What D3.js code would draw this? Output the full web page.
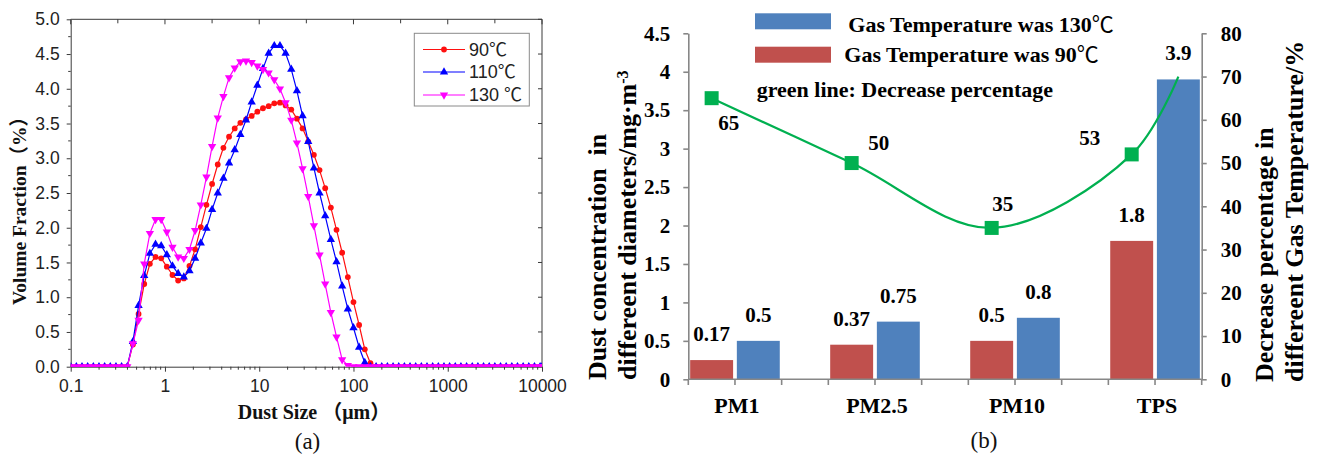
<!DOCTYPE html>
<html><head><meta charset="utf-8">
<script src="https://cdn.jsdelivr.net/npm/d3@7"></script>
<style>body{margin:0;background:#fff;} svg{display:block}</style>
</head><body>
<svg id="c" width="1317" height="459"></svg>
<script>
// ---------- Chart (a) data ----------
const sizes = [0.1,0.1148,0.1318,0.1514,0.1738,0.1995,0.2291,0.263,0.302,0.3467,
 0.3981,0.4571,0.5248,0.6026,0.6918,0.7943,0.912,1.047,1.202,1.38,
 1.585,1.82,2.089,2.399,2.754,3.162,3.631,4.169,4.786,5.495,
 6.31,7.244,8.318,9.55,10.96,12.59,14.45,16.6,19.05,21.88,
 25.12,28.84,33.11,38.02,43.65,50.12,57.54,66.07,75.86,87.1,
 100,114.8,131.8,151.4,173.8,199.5,229.1,263,302,346.7,
 398.1,457.1,524.8,602.6,691.8,794.3,912,1047,1202,1380,
 1585,1820,2089,2399,2754,3162,3631,4169,4786,5495,
 6310,7244,8318,9550,10000];
const vol90 = [0,0,0,0,0,0,0,0,0,0,
 0,0.32,0.76,1.19,1.48,1.58,1.56,1.44,1.32,1.24,
 1.27,1.45,1.69,2.01,2.33,2.63,2.91,3.15,3.31,3.43,
 3.51,3.56,3.61,3.67,3.72,3.75,3.79,3.80,3.76,3.70,
 3.57,3.43,3.24,3.05,2.83,2.57,2.29,1.97,1.64,1.29,
 0.93,0.60,0.25,0.05,0,0,0,0,0,0,
 0,0,0,0,0,0,0,0,0,0,
 0,0,0,0,0,0,0,0,0,0,
 0,0,0,0,0];
const vol110 = [0,0,0,0,0,0,0,0,0,0,
 0,0.36,0.88,1.31,1.63,1.76,1.74,1.61,1.45,1.34,
 1.29,1.38,1.56,1.78,1.99,2.26,2.50,2.71,2.93,3.12,
 3.34,3.55,3.81,4.05,4.29,4.51,4.62,4.62,4.51,4.28,
 3.97,3.61,3.24,2.86,2.50,2.17,1.83,1.51,1.16,0.83,
 0.56,0.28,0.06,0,0,0,0,0,0,0,
 0,0,0,0,0,0,0,0,0,0,
 0,0,0,0,0,0,0,0,0,0,
 0,0,0,0,0];
const vol130 = [0,0,0,0,0,0,0,0,0,0,
 0,0.33,0.67,1.48,1.92,2.12,2.12,1.94,1.72,1.58,
 1.56,1.69,1.96,2.33,2.73,3.17,3.58,3.89,4.16,4.30,
 4.39,4.40,4.38,4.33,4.28,4.23,4.13,4.00,3.80,3.55,
 3.22,2.85,2.45,2.03,1.61,1.19,0.78,0.43,0.10,0.02,
 0,0,0,0,0,0,0,0,0,0,
 0,0,0,0,0,0,0,0,0,0,
 0,0,0,0,0,0,0,0,0,0,
 0,0,0,0,0];
const sizeTicks = [0.1,1,10,100,1000,10000];
const volTicks = [0,0.5,1,1.5,2,2.5,3,3.5,4,4.5,5];
const legendA = ["90℃","110℃","130 ℃"];

// ---------- Chart (b) data ----------
const categories = ["PM1","PM2.5","PM10","TPS"];
const conc90 = [0.25,0.45,0.5,1.8];
const conc130 = [0.5,0.75,0.8,3.9];
const conc90Labels = ["0.17","0.37","0.5","1.8"];
const conc130Labels = ["0.5","0.75","0.8","3.9"];
const decreaseCats = ["PM1","PM2.5","PM10","TPS","TPS"];
const decreaseSeries = ["90","90","90","90","130"];
const decrease = [65,50,35,52,70];
const decreaseLabels = ["65","50","35","53"];
const concTicks = [0,0.5,1,1.5,2,2.5,3,3.5,4,4.5];
const pctTicks = [0,10,20,30,40,50,60,70,80];
const legendB = ["Gas Temperature was 130℃","Gas Temperature was 90℃","green line: Decrease percentage"];

// ---------- drawing ----------
const SERIF = "'Liberation Serif','Times New Roman','DejaVu Serif','Noto Sans CJK SC',serif";
const SANS = "'Liberation Sans',Arial,'Noto Sans CJK SC',sans-serif";
const CJK = "'Noto Sans CJK SC','Noto Sans CJK JP',sans-serif";
const svg = d3.select("#c");
svg.append("rect").attr("width",1317).attr("height",459).attr("fill","#fff");

function richText(sel, str, cjkWeight){
  str.split(/(℃)/).forEach(part=>{
    if(!part) return;
    const t = sel.append("tspan").text(part);
    if(part==="℃") t.attr("font-family",CJK).attr("font-weight",cjkWeight||"normal");
  });
  return sel;
}

// ===== Chart (a) =====
const A = {l:70.7, r:542, t:19.3, b:366.7};
const xA = d3.scaleLog().domain([0.1,10000]).range([A.l,A.r]);
const yA = d3.scaleLinear().domain([0,5]).range([A.b,A.t]);
const gA = svg.append("g");
const axA = "#3a3a3a";

svg.append("defs").append("clipPath").attr("id","clipA").append("rect")
  .attr("x",A.l).attr("y",A.t).attr("width",A.r-A.l).attr("height",A.b-A.t);

const la = gA.append("g").attr("transform",`translate(${A.l},0)`)
  .call(d3.axisLeft(yA).tickValues(volTicks).tickFormat(d3.format(".1f")).tickSize(4).tickSizeOuter(0).tickPadding(7));
const ba = gA.append("g").attr("transform",`translate(0,${A.b})`)
  .call(d3.axisBottom(xA).tickValues(sizeTicks).tickFormat(d=>String(d)).tickSize(5).tickSizeOuter(0).tickPadding(8));
[la,ba].forEach(g=>{
  g.select(".domain").attr("stroke",axA);
  g.selectAll(".tick line").attr("stroke",axA);
  g.selectAll(".tick text").attr("font-family",SANS).attr("font-size",17.5).attr("fill","#222");
});
const minorY = volTicks.slice(0,-1).map(d=>d+0.25);
gA.selectAll(".myl").data(minorY).enter().append("line")
  .attr("x1",A.l-2.5).attr("x2",A.l).attr("y1",d=>yA(d)).attr("y2",d=>yA(d)).attr("stroke",axA);
const minorX = [];
sizeTicks.slice(0,-1).forEach(d=>{for(let k=2;k<10;k++) minorX.push(d*k);});
gA.selectAll(".mxb").data(minorX).enter().append("line")
  .attr("x1",d=>xA(d)).attr("x2",d=>xA(d)).attr("y1",A.b).attr("y2",A.b+3).attr("stroke",axA);
const halfDec = [];
sizeTicks.forEach((d,i)=>{halfDec.push(d); if(i<sizeTicks.length-1) halfDec.push(d*Math.sqrt(10));});
gA.selectAll(".tt").data(halfDec).enter().append("line")
  .attr("x1",d=>xA(d)).attr("x2",d=>xA(d)).attr("y1",A.t).attr("y2",(d,i)=>A.t+(i%2?4:5)).attr("stroke",axA);
gA.selectAll(".rt").data(volTicks).enter().append("line")
  .attr("x1",A.r-4).attr("x2",A.r).attr("y1",d=>yA(d)).attr("y2",d=>yA(d)).attr("stroke",axA);
gA.append("path").attr("d",`M${A.l},${A.t}H${A.r}V${A.b}`).attr("fill","none").attr("stroke",axA);

const seriesA = [
  {vals:vol90, color:"#ff1010", sym:"circle"},
  {vals:vol110, color:"#0000ff", sym:"up"},
  {vals:vol130, color:"#ff00ff", sym:"down"}
];
const lineA = d3.line().x(d=>xA(d[0])).y(d=>yA(d[1]));
const plotA = gA.append("g").attr("clip-path","url(#clipA)");
function marker(g, sym, color){
  if(sym==="circle") g.append("circle").attr("r",2.9).attr("fill",color);
  else g.append("path").attr("d",d3.symbol().type(d3.symbolTriangle).size(30)())
        .attr("transform",sym==="down"?"rotate(180)":null).attr("fill",color);
}
seriesA.forEach(s=>{
  const pts = sizes.map((x,i)=>[x,s.vals[i]]);
  plotA.append("path").datum(pts).attr("d",lineA).attr("fill","none").attr("stroke",s.color).attr("stroke-width",1.2);
  pts.forEach(p=>{
    const m = plotA.append("g").attr("transform",`translate(${xA(p[0])},${yA(p[1])})`);
    marker(m,s.sym,s.color);
  });
});
const lg = gA.append("g");
lg.append("rect").attr("x",414.3).attr("y",33.3).attr("width",115).attr("height",72.7)
  .attr("fill","#fff").attr("stroke","#8a8a8a").attr("stroke-width",1);
const legY = [49.5,72,95];
seriesA.forEach((s,i)=>{
  lg.append("line").attr("x1",423).attr("x2",465).attr("y1",legY[i]).attr("y2",legY[i]).attr("stroke",s.color).attr("stroke-width",1.2);
  const m = lg.append("g").attr("transform",`translate(444,${legY[i]})`);
  marker(m,s.sym,s.color);
  const t = lg.append("text").attr("x",469).attr("y",legY[i]).attr("dy","0.36em").attr("font-family",SANS)
    .attr("font-size",18).attr("fill","#222").attr("xml:space","preserve");
  richText(t, legendA[i]);
});
gA.append("text").attr("transform","translate(26,206) rotate(-90)").attr("text-anchor","middle")
  .attr("font-family",SERIF).attr("font-weight","bold").attr("font-size",19.5).attr("fill","#111")
  .text("Volume Fraction（%）");
gA.append("text").attr("x",237.7).attr("y",419).attr("font-family",SERIF).attr("font-weight","bold")
  .attr("font-size",20).attr("fill","#111").text("Dust Size （μm）");
gA.append("text").attr("x",307.5).attr("y",449).attr("text-anchor","middle").attr("font-family",SERIF)
  .attr("font-size",23).attr("fill","#111").text("(a)");

// ===== Chart (b) =====
const B = {l:688.3, r:1201.7, t:33.3, b:379.3};
const axB = "#878787";
const xB = d3.scaleBand().domain(categories).range([B.l,B.r]).paddingInner(1/3).paddingOuter(0);
const xSub = d3.scaleBand().domain(["90","130"]).range([0,xB.bandwidth()]).paddingInner(0.08).paddingOuter(0.04);
const yL = d3.scaleLinear().domain([0,4.5]).range([B.b,B.t]);
const yR = d3.scaleLinear().domain([0,80]).range([B.b,B.t]);
const gB = svg.append("g");

const colors = {"90":"#C0504D","130":"#4F81BD"};
categories.forEach((c,i)=>{
  [["90",conc90[i],conc90Labels[i]],["130",conc130[i],conc130Labels[i]]].forEach(([s,v,lab])=>{
    const x = xB(c)+xSub(s);
    gB.append("rect").attr("x",x).attr("y",yL(v)).attr("width",xSub.bandwidth()).attr("height",yL(0)-yL(v))
      .attr("fill",colors[s]);
    gB.append("text").attr("x",x+xSub.bandwidth()/2).attr("y",yL(v)-19).attr("text-anchor","middle")
      .attr("font-family",SERIF).attr("font-weight","bold").attr("font-size",21).attr("fill","#000").text(lab);
  });
});

const lb = gB.append("g").attr("transform",`translate(${B.l},0)`)
  .call(d3.axisLeft(yL).tickValues(concTicks).tickFormat(d=>String(d)).tickSize(5).tickSizeOuter(0).tickPadding(13));
const rb = gB.append("g").attr("transform",`translate(${B.r},0)`)
  .call(d3.axisRight(yR).tickValues(pctTicks).tickFormat(d=>String(d)).tickSize(5).tickSizeOuter(0).tickPadding(14));
[lb,rb].forEach(g=>{
  g.select(".domain").attr("stroke",axB).attr("stroke-width",1.6);
  g.selectAll(".tick line").attr("stroke",axB).attr("stroke-width",1.6);
  g.selectAll(".tick text").attr("font-family",SERIF).attr("font-weight","bold").attr("font-size",21).attr("fill","#000");
});
gB.append("line").attr("x1",B.l).attr("x2",B.r).attr("y1",B.b).attr("y2",B.b).attr("stroke",axB).attr("stroke-width",1.6);
const bTicks = [];
categories.forEach(c=>{bTicks.push(xB(c), xB(c)+xSub.step(), xB(c)+xB.bandwidth());});
gB.selectAll(".bt").data(bTicks).enter().append("line")
  .attr("x1",d=>d).attr("x2",d=>d).attr("y1",B.b).attr("y2",B.b+5.7).attr("stroke",axB).attr("stroke-width",1.6);
categories.forEach(c=>{
  gB.append("text").attr("x",xB(c)+xB.bandwidth()/2+2).attr("y",413).attr("text-anchor","middle")
    .attr("font-family",SERIF).attr("font-weight","bold").attr("font-size",22).attr("fill","#000").text(c);
});

const gpts = decrease.map((v,i)=>[xB(decreaseCats[i])+xSub(decreaseSeries[i])+xSub.bandwidth()/2, yR(v)]);
gB.append("path").attr("d",d3.line().curve(d3.curveCatmullRom.alpha(0.5))(gpts))
  .attr("fill","none").attr("stroke","#00B050").attr("stroke-width",2.2);
const labOff = [[17,32],[27,-13],[11,-17],[-42,-9]];
decreaseLabels.forEach((lab,i)=>{
  const [px,py] = gpts[i];
  gB.append("rect").attr("x",px-7).attr("y",py-7).attr("width",14).attr("height",14).attr("fill","#00B050");
  gB.append("text").attr("x",px+labOff[i][0]).attr("y",py+labOff[i][1]).attr("text-anchor","middle")
    .attr("font-family",SERIF).attr("font-weight","bold").attr("font-size",21).attr("fill","#000").text(lab);
});

gB.append("rect").attr("x",755).attr("y",13.3).attr("width",76).attr("height",16).attr("fill","#4F81BD");
gB.append("rect").attr("x",755).attr("y",46.7).attr("width",76).attr("height",16).attr("fill","#C0504D");
const legBpos = [[848.3,32.3],[844.3,62.3],[756.7,96.7]];
legendB.forEach((t,i)=>{
  const el = gB.append("text").attr("x",legBpos[i][0]).attr("y",legBpos[i][1]).attr("font-family",SERIF).attr("font-weight","bold")
    .attr("font-size",22).attr("fill","#000");
  richText(el, t, "normal");
});

gB.append("text").attr("transform","translate(606,380) rotate(-90)")
  .attr("font-family",SERIF).attr("font-weight","bold").attr("font-size",26).attr("fill","#000")
  .attr("xml:space","preserve").style("white-space","pre").text("Dust concentration  in");
const tl2 = gB.append("text").attr("transform","translate(636,380) rotate(-90)")
  .attr("font-family",SERIF).attr("font-weight","bold").attr("font-size",26).attr("fill","#000");
tl2.append("tspan").text("differeent diameters/mg·m");
tl2.append("tspan").attr("baseline-shift","super").attr("font-size",16).text("-3");
gB.append("text").attr("transform","translate(1273,382) rotate(-90)")
  .attr("font-family",SERIF).attr("font-weight","bold").attr("font-size",26).attr("fill","#000")
  .text("Decrease percentage in");
gB.append("text").attr("transform","translate(1303,382) rotate(-90)")
  .attr("font-family",SERIF).attr("font-weight","bold").attr("font-size",26).attr("fill","#000")
  .text("differeent Gas Temperature/%");
gB.append("text").attr("x",984).attr("y",448).attr("text-anchor","middle").attr("font-family",SERIF)
  .attr("font-size",23).attr("fill","#111").text("(b)");
</script>
</body></html>
